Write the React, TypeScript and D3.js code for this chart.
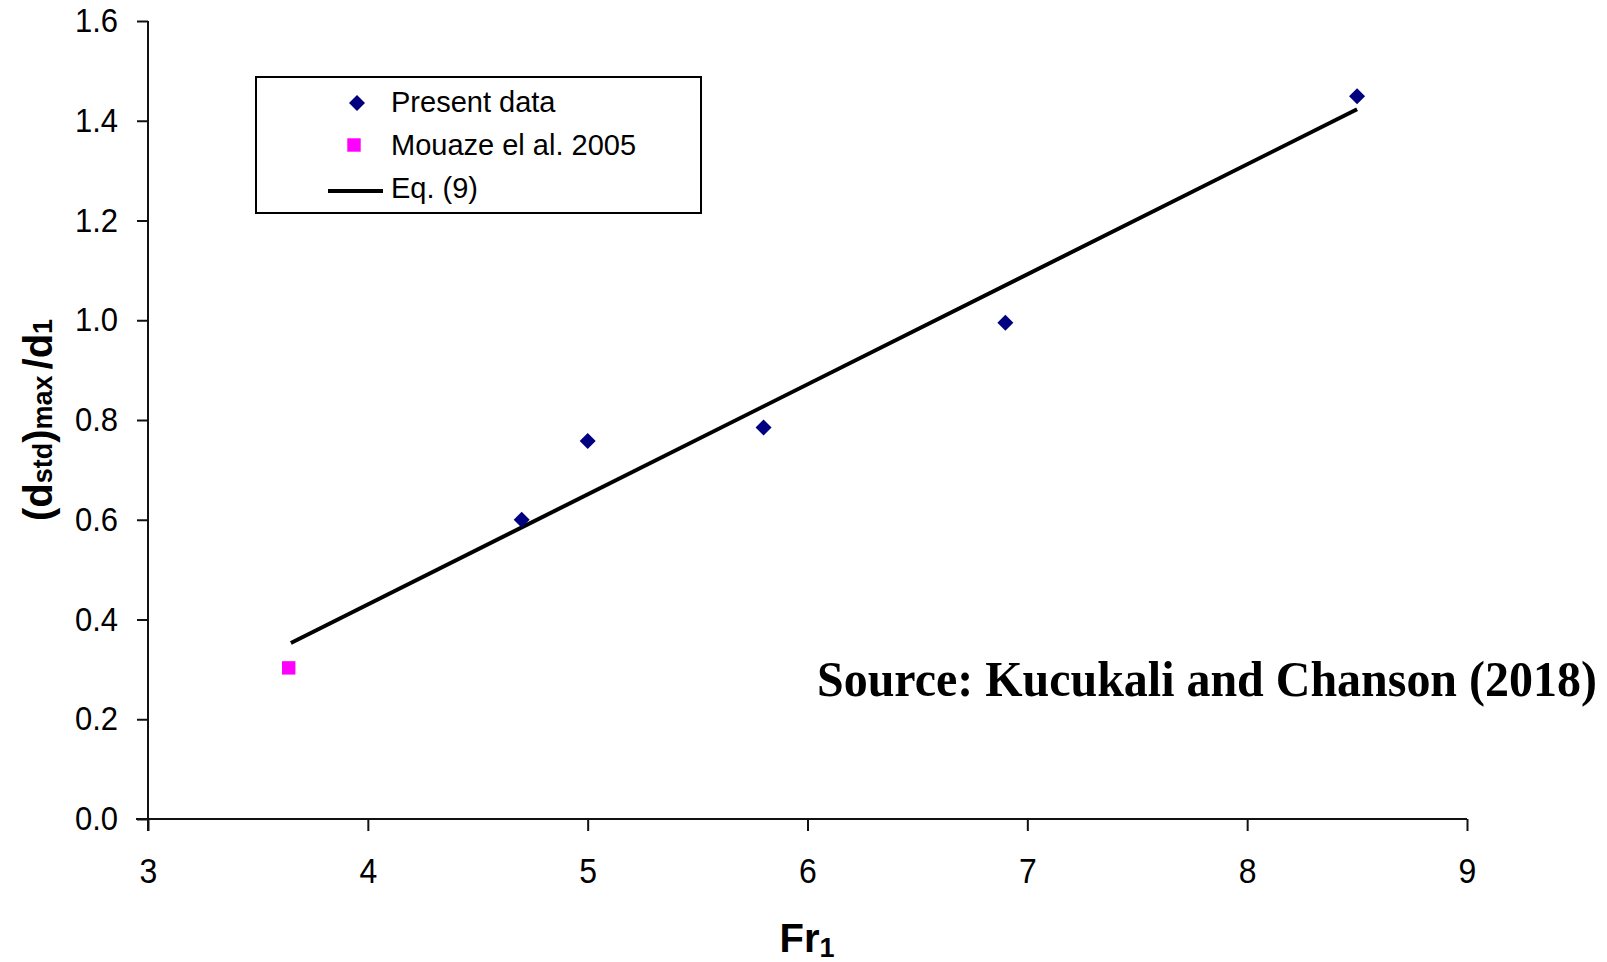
import React, { useRef, useEffect } from 'react';
import * as d3 from 'd3';

// Present data
const presentFr = [4.7, 5.0, 5.8, 6.9, 8.5];
const presentD = [0.6, 0.758, 0.785, 0.995, 1.449];

// Mouaze et al. 2005
const mouazeFr = [3.64];
const mouazeD = [0.303];

// Eq. (9) end points
const eqFr = [3.65, 8.5];
const eqD = [0.353, 1.423];

const xTicks = [3, 4, 5, 6, 7, 8, 9];
const yTicks = [0, 0.2, 0.4, 0.6, 0.8, 1.0, 1.2, 1.4, 1.6];

const legendItems = ['Present data', 'Mouaze el al. 2005', 'Eq. (9)'];

const W = 1607;
const H = 962;

const App = () => {
  const svgRef = useRef<SVGSVGElement>(null);

  useEffect(() => {
    const svg = d3.select(svgRef.current);
    svg.selectAll('*').remove();

    const x = d3.scaleLinear().domain([3, 9]).range([148, 1467]);
    const y = d3.scaleLinear().domain([0, 1.6]).range([819, 21]);

    const font = 'Arial, "Liberation Sans", sans-serif';

    // x axis
    const gx = svg.append('g').attr('transform', `translate(0,${y(0)})`);
    gx.call(
      d3.axisBottom(x).tickValues(xTicks).tickFormat(d3.format('d'))
        .tickSize(12).tickSizeOuter(0).tickPadding(27)
    );
    gx.select('.domain').remove();
    gx.append('line')
      .attr('x1', 136).attr('x2', x(9))
      .attr('stroke', '#111').attr('stroke-width', 2);
    // labels in the original are a little stretched vertically
    gx.selectAll('.tick text')
      .attr('y', 39 / 1.12)
      .attr('transform', 'scale(1,1.12)')
      .style('font-size', '32px');

    // y axis
    const gy = svg.append('g').attr('transform', `translate(${x(3)},0)`);
    gy.call(
      d3.axisLeft(y).tickValues(yTicks).tickFormat(d3.format('.1f'))
        .tickSize(11).tickSizeOuter(0).tickPadding(19)
    );
    gy.select('.domain').remove();
    gy.append('line')
      .attr('y1', y(1.6)).attr('y2', y(0) + 12)
      .attr('stroke', '#111').attr('stroke-width', 2);
    gy.selectAll('.tick text')
      .attr('transform', 'scale(1,1.08)')
      .style('font-size', '31px');

    svg.selectAll('.tick line').attr('stroke', '#111').attr('stroke-width', 2);
    svg.selectAll('.tick text')
      .attr('fill', '#000')
      .style('font-family', font);

    // Eq. (9)
    svg.append('path')
      .datum(eqFr.map((f, i) => [f, eqD[i]] as [number, number]))
      .attr('d', d3.line<[number, number]>().x(d => x(d[0])).y(d => y(d[1])))
      .attr('fill', 'none')
      .attr('stroke', '#000')
      .attr('stroke-width', 4);

    const diamond = d3.symbol().type(d3.symbolSquare).size(128);
    const square = d3.symbol().type(d3.symbolSquare).size(180);

    svg.append('g').selectAll('path')
      .data(presentFr.map((f, i) => [f, presentD[i]]))
      .enter()
      .append('path')
      .attr('d', diamond)
      .attr('transform', d => `translate(${x(d[0])},${y(d[1])}) rotate(45)`)
      .attr('fill', '#000080');

    svg.append('g').selectAll('path')
      .data(mouazeFr.map((f, i) => [f, mouazeD[i]]))
      .enter()
      .append('path')
      .attr('d', square)
      .attr('transform', d => `translate(${x(d[0])},${y(d[1])})`)
      .attr('fill', '#ff00ff');

    // Legend
    const lg = svg.append('g');
    lg.append('rect')
      .attr('x', 256).attr('y', 77).attr('width', 445).attr('height', 136)
      .attr('fill', '#fff').attr('stroke', '#000').attr('stroke-width', 2);
    lg.append('path').attr('d', diamond)
      .attr('transform', 'translate(357,103) rotate(45)').attr('fill', '#000080');
    lg.append('path').attr('d', square)
      .attr('transform', 'translate(354,145)').attr('fill', '#ff00ff');
    lg.append('line')
      .attr('x1', 328).attr('x2', 383).attr('y1', 191).attr('y2', 191)
      .attr('stroke', '#000').attr('stroke-width', 4);
    lg.selectAll('text.leg')
      .data(legendItems)
      .enter()
      .append('text')
      .attr('class', 'leg')
      .attr('x', 391)
      .attr('y', (d, i) => 112 + i * 43)
      .style('font-family', font)
      .style('font-size', '29px')
      .text(d => d);

    // x title
    const xt = svg.append('text')
      .attr('x', 807).attr('y', 952)
      .attr('text-anchor', 'middle')
      .style('font-family', font)
      .style('font-weight', 'bold')
      .style('font-size', '40px');
    xt.append('tspan').text('Fr');
    xt.append('tspan').attr('dy', 5).style('font-size', '27px').text('1');

    // y title
    const yt = svg.append('text')
      .attr('transform', 'translate(52,420) rotate(-90)')
      .attr('text-anchor', 'middle')
      .style('font-family', font)
      .style('font-weight', 'bold')
      .style('font-size', '40px');
    yt.append('tspan').text('(d');
    yt.append('tspan').style('font-size', '27px').text('std');
    yt.append('tspan').text(')');
    yt.append('tspan').style('font-size', '27px').text('max');
    yt.append('tspan').attr('dx', 6).text('/d');
    yt.append('tspan').style('font-size', '27px').text('1');

    // source (condensed bold serif)
    svg.append('text')
      .attr('transform', 'translate(817,696) scale(0.979,1.03)')
      .style('font-family', '"Times New Roman", "Liberation Serif", serif')
      .style('font-weight', 'bold')
      .style('font-size', '49px')
      .text('Source: Kucukali and Chanson (2018)');
  }, []);

  return (
    <svg
      ref={svgRef}
      width={W}
      height={H}
      style={{ position: 'absolute', left: 0, top: 0, background: '#fff' }}
    />
  );
};

export default App;
